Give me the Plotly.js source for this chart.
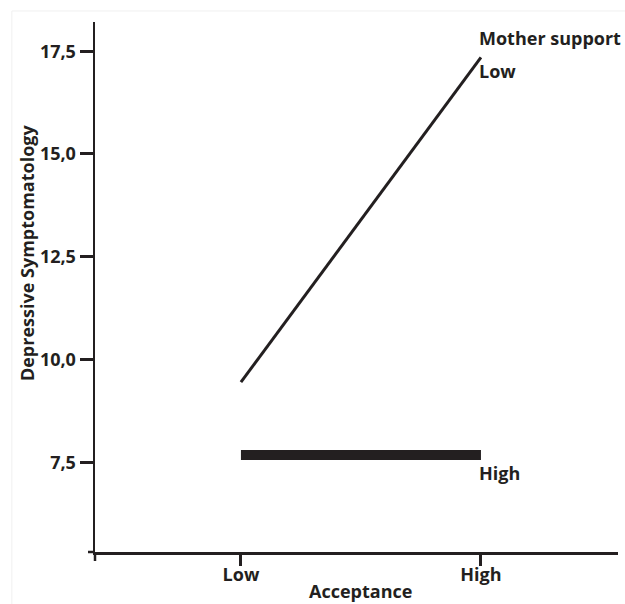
<!DOCTYPE html>
<html>
<head>
<meta charset="utf-8">
<script src="https://cdn.plot.ly/plotly-3.0.1.min.js"></script>
<style>html,body{margin:0;padding:0;background:#fff;}#chart{width:625px;height:604px;}</style>
</head>
<body>
<div id="chart"></div>
<script>
const acceptance = ['Low', 'High'];
const lowSupport = [9.45, 17.35];
const highSupport = [7.68, 7.68];
const yTicks = [7.5, 10, 12.5, 15, 17.5];
const seriesNames = ['Low', 'High'];
const legendTitle = 'Mother support';
const xTitle = 'Acceptance';
const yTitle = 'Depressive Symptomatology';

const ink = '#231f20';
const font = {family: 'Open Sans, sans-serif', size: 18, color: ink, weight: 700};

const traces = [
  {x: acceptance, y: lowSupport, type: 'scatter', mode: 'lines', name: seriesNames[0],
   line: {color: ink, width: 3}, hoverinfo: 'skip'},
  {x: acceptance, y: highSupport, type: 'scatter', mode: 'lines', name: seriesNames[1],
   line: {color: ink, width: 10}, hoverinfo: 'skip'}
];

const layout = {
  width: 625, height: 604,
  margin: {l: 95, r: 7, t: 22, b: 52},
  paper_bgcolor: '#fff', plot_bgcolor: '#fff',
  showlegend: false,
  separators: ', ',
  font: font,
  xaxis: {
    type: 'category', range: [-0.608, 1.571],
    showgrid: false, zeroline: false,
    showline: true, linecolor: ink, linewidth: 2.5,
    ticks: 'outside', ticklen: 11, tickwidth: 3, tickcolor: ink,
    ticklabelstandoff: -6,
    tickfont: font
  },
  yaxis: {
    range: [5.32, 18.21],
    tickvals: yTicks, tickformat: '.1f',
    showgrid: false, zeroline: false,
    showline: true, linecolor: ink, linewidth: 2.5,
    ticks: 'outside', ticklen: 13, tickwidth: 3, tickcolor: ink,
    tickfont: font
  },
  shapes: [
    {type: 'line', xref: 'paper', yref: 'paper', x0: 0, x1: 0, y0: 0, y1: -0.017, line: {color: ink, width: 2.5}},
    {type: 'line', xref: 'paper', yref: 'paper', x0: -0.0134, x1: 0, y0: 0, y1: 0, line: {color: ink, width: 2.5}},
    {type: 'line', xref: 'paper', yref: 'paper', x0: -0.159, x1: 1.02, y0: 1.0208, y1: 1.0208, line: {color: '#f0f0f0', width: 1}},
    {type: 'line', xref: 'paper', yref: 'paper', x0: -0.159, x1: -0.159, y0: 1.0208, y1: -0.1, line: {color: '#f0f0f0', width: 1}}
  ],
  annotations: [
    {text: legendTitle, xref: 'x', x: 1, xanchor: 'left', xshift: -4, yref: 'paper', y: 0.9698, yanchor: 'middle', showarrow: false, font: font},
    {text: seriesNames[0], xref: 'x', x: 1, xanchor: 'left', xshift: -4, yref: 'paper', y: 0.9075, yanchor: 'middle', showarrow: false, font: font},
    {text: seriesNames[1], xref: 'x', x: 1, xanchor: 'left', xshift: -4, yref: 'paper', y: 0.1485, yanchor: 'middle', showarrow: false, font: font},
    {text: xTitle, xref: 'paper', x: 0.5086, xanchor: 'center', yref: 'paper', y: -0.0736, yanchor: 'middle', showarrow: false, font: font},
    {text: yTitle, xref: 'paper', x: -0.130, xanchor: 'center', yref: 'paper', y: 0.564, yanchor: 'middle', textangle: -90, showarrow: false, font: font}
  ]
};

Plotly.newPlot('chart', traces, layout, {displayModeBar: false, staticPlot: true});
</script>
</body>
</html>
